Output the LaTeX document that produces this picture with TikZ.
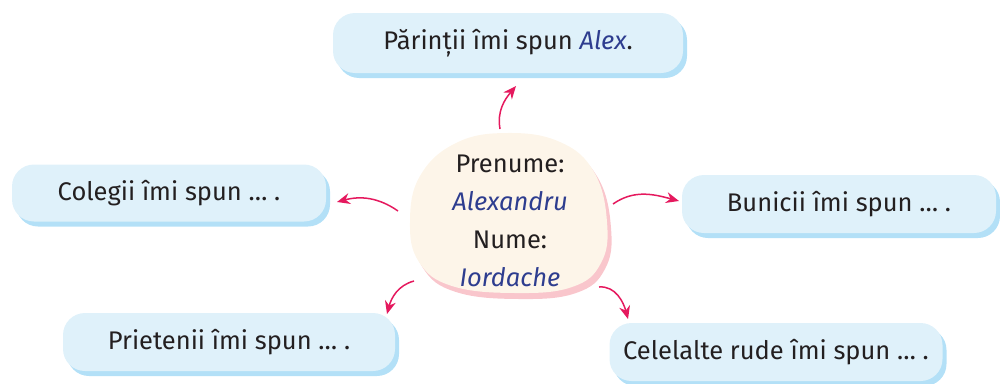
\documentclass[tikz,border=0pt]{standalone}
\usepackage{fontspec}
\setmainfont{Fira Sans}
\usetikzlibrary{arrows.meta,shadows}
\definecolor{boxfill}{HTML}{DFF1FA}
\definecolor{boxshadow}{HTML}{B3E0F7}
\definecolor{txt}{HTML}{231F20}
\definecolor{namecol}{HTML}{2E3D8F}
\definecolor{arrowcol}{HTML}{E5195E}
\definecolor{blobfill}{HTML}{FDF5E9}
\definecolor{blobshadow}{HTML}{F9C6CC}
\newcommand{\nm}[1]{\textcolor{namecol}{\itshape #1}}
\begin{document}
\begin{tikzpicture}[x=1pt,y=-1pt,
  bubble/.style={fill=boxfill, rounded corners=22pt, inner sep=0pt,
    font=\fontsize{25.5}{30}\selectfont, text=txt,
    drop shadow={shadow xshift=4pt, shadow yshift=-5pt, fill=boxshadow, opacity=1}},
  link/.style={draw=arrowcol, line width=1.5pt, -{Stealth[length=13pt,width=11pt]}}]
\useasboundingbox (0,0) rectangle (1000,383);
% boxes
\node[bubble, minimum width=350pt, minimum height=60pt] (top) at (508,43) {Părinții îmi spun \nm{Alex}.};
\node[bubble, minimum width=314pt, minimum height=57pt] (left) at (169,193) {Colegii îmi spun … .};
\node[bubble, minimum width=314pt, minimum height=58pt] (right) at (839,204) {Bunicii îmi spun … .};
\node[bubble, minimum width=332pt, minimum height=58pt] (bl) at (229,342) {Prietenii îmi spun … .};
\node[bubble, minimum width=333pt, minimum height=58pt] (br) at (776,352) {Celelalte rude îmi spun … .};
% central blob
\fill[blobshadow, shift={(4,6)}] plot[smooth cycle, tension=0.7] coordinates {(507,133) (560,142) (594,172) (607,222) (601,263) (572,287) (515,293) (452,286) (419,262) (410,222) (420,176) (456,143)};
\fill[blobfill] plot[smooth cycle, tension=0.7] coordinates {(507,133) (560,142) (594,172) (607,222) (601,263) (572,287) (515,293) (452,286) (419,262) (410,222) (420,176) (456,143)};
\node[align=center, inner sep=0pt, font=\fontsize{25.5}{38}\selectfont, text=txt] (c) at (510,221) {Prenume:\\ \nm{Alexandru}\\ Nume:\\ \nm{Iordache}};
% arrow ends
\coordinate (s1) at (500,129); \coordinate (e1) at (516,86);
\coordinate (s2) at (613,204); \coordinate (e2) at (679,201);
\coordinate (s3) at (398,211); \coordinate (e3) at (337,202);
\coordinate (s4) at (414,281); \coordinate (e4) at (387,314);
\coordinate (s5) at (599,287); \coordinate (e5) at (628,319);
\draw[link] (s1) to[out=100, in=-130] (e1);
\draw[link] (s2) to[out=35, in=165] (e2);
\draw[link] (s3) to[out=145, in=15] (e3);
\draw[link] (s4) to[out=195, in=75] (e4);
\draw[link] (s5) to[out=5, in=105] (e5);
\end{tikzpicture}
\end{document}
